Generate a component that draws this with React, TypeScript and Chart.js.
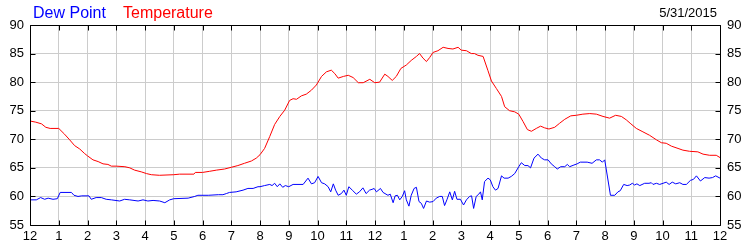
import React, { useEffect, useRef } from "react";
import { Chart, registerables } from "chart.js";

Chart.register(...registerables);

const dateLabel = "5/31/2015";
const seriesNames = ["Dew Point", "Temperature"];
const yTicks = [55, 60, 65, 70, 75, 80, 85, 90];
const hourTicks = [0, 1, 2, 3, 4, 5, 6, 7, 8, 9, 10, 11, 12, 13, 14, 15, 16, 17, 18, 19, 20, 21, 22, 23, 24];
const hourLabels = ["12", "1", "2", "3", "4", "5", "6", "7", "8", "9", "10", "11", "12", "1", "2", "3", "4", "5", "6", "7", "8", "9", "10", "11", "12"];

const tempHours = [
  0, 0.2, 0.4, 0.55, 0.7, 1.0, 1.2, 1.38, 1.55, 1.73, 1.9, 2.0, 2.19, 2.37, 2.54, 2.71, 2.83, 3.0, 3.3, 3.47,
  3.64, 3.87, 4.05, 4.22, 4.5, 5.0, 5.2, 5.7, 5.75, 6.0, 6.25, 6.48, 6.77, 7.0, 7.23, 7.46, 7.7, 7.87, 8.0, 8.16,
  8.34, 8.51, 8.69, 8.86, 9.03, 9.15, 9.27, 9.44, 9.61, 9.79, 9.96, 10.14, 10.31, 10.48, 10.6, 10.72, 10.9, 11.07, 11.24, 11.42,
  11.59, 11.82, 11.99, 12.16, 12.34, 12.45, 12.6, 12.74, 12.9, 13.09, 13.26, 13.44, 13.55, 13.67, 13.79, 13.9, 14.02, 14.19, 14.37, 14.54,
  14.71, 14.89, 15.0, 15.18, 15.35, 15.46, 15.58, 15.76, 15.93, 16.05, 16.22, 16.4, 16.51, 16.68, 16.86, 17.0, 17.15, 17.3, 17.44, 17.61,
  17.76, 17.9, 18.05, 18.25, 18.42, 18.6, 18.81, 19.0, 19.23, 19.47, 19.7, 19.93, 20.16, 20.37, 20.57, 20.74, 20.9, 21.09, 21.32, 21.55,
  21.79, 21.96, 22.13, 22.31, 22.54, 22.71, 22.94, 23.23, 23.41, 23.64, 23.87, 24.0,
];
const tempValues = [
  73.2, 73.0, 72.7, 72.1, 71.9, 71.9, 70.9, 69.9, 68.9, 68.3, 67.5, 67.1, 66.4, 66.1, 65.7, 65.6, 65.3, 65.3, 65.2, 65.0,
  64.6, 64.3, 64.0, 63.8, 63.7, 63.8, 63.9, 63.9, 64.2, 64.2, 64.4, 64.6, 64.8, 65.1, 65.4, 65.8, 66.2, 66.7, 67.3, 68.4,
  70.5, 72.6, 74.0, 75.1, 76.8, 77.1, 77.0, 77.6, 77.9, 78.6, 79.5, 81.0, 81.8, 82.1, 81.5, 80.7, 81.0, 81.2, 80.8, 79.9,
  79.9, 80.5, 79.9, 80.0, 81.4, 81.0, 80.3, 81.0, 82.4, 83.0, 83.8, 84.5, 85.0, 84.2, 83.6, 84.3, 85.2, 85.5, 86.1, 85.9,
  85.8, 86.1, 85.6, 85.5, 85.0, 85.0, 84.7, 84.5, 82.0, 80.2, 78.9, 77.5, 75.7, 75.0, 74.8, 74.4, 73.1, 71.7, 71.4, 71.9,
  72.3, 72.0, 71.8, 72.1, 72.8, 73.5, 74.1, 74.2, 74.4, 74.5, 74.4, 74.0, 73.7, 74.2, 74.0, 73.4, 72.7, 71.9, 71.3, 70.7,
  69.9, 69.4, 69.3, 68.8, 68.4, 68.1, 67.9, 67.8, 67.4, 67.2, 67.2, 66.8,
];

const dewHours = [
  0, 0.22, 0.37, 0.51, 0.63, 0.8, 0.95, 1.05, 1.44, 1.53, 1.67, 1.8, 2.05, 2.13, 2.3, 2.48, 2.65, 2.83, 3.12, 3.29,
  3.47, 3.76, 3.93, 4.1, 4.28, 4.51, 4.69, 4.86, 5.0, 5.5, 5.73, 5.84, 6.2, 6.55, 6.71, 6.83, 6.94, 7.17, 7.41, 7.58,
  7.76, 7.93, 8.0, 8.16, 8.34, 8.42, 8.51, 8.6, 8.69, 8.79, 8.88, 9.0, 9.15, 9.5, 9.67, 9.79, 9.9, 10.02, 10.14, 10.25,
  10.37, 10.46, 10.55, 10.63, 10.72, 10.83, 10.92, 11.0, 11.09, 11.21, 11.35, 11.46, 11.58, 11.69, 11.81, 11.93, 11.97, 12.05, 12.19, 12.28,
  12.45, 12.53, 12.63, 12.7, 12.78, 12.86, 12.95, 13.03, 13.09, 13.18, 13.26, 13.36, 13.44, 13.53, 13.61, 13.69, 13.79, 13.9, 14.02, 14.13,
  14.25, 14.34, 14.42, 14.5, 14.6, 14.69, 14.77, 14.85, 14.97, 15.08, 15.18, 15.29, 15.36, 15.43, 15.52, 15.61, 15.67, 15.73, 15.81, 15.93,
  16.01, 16.1, 16.19, 16.28, 16.4, 16.49, 16.63, 16.74, 16.86, 17.0, 17.09, 17.21, 17.32, 17.41, 17.53, 17.67, 17.79, 17.9, 18.02, 18.13,
  18.25, 18.34, 18.46, 18.6, 18.69, 18.77, 18.92, 19.03, 19.14, 19.38, 19.55, 19.7, 19.81, 19.91, 19.99, 20.19, 20.34, 20.45, 20.53, 20.65,
  20.77, 20.86, 20.95, 21.03, 21.11, 21.21, 21.38, 21.53, 21.61, 21.67, 21.79, 21.9, 22.02, 22.13, 22.23, 22.34, 22.46, 22.6, 22.71, 22.83,
  22.97, 23.08, 23.18, 23.32, 23.47, 23.62, 23.74, 23.85, 24.0,
];
const dewValues = [
  59.4, 59.4, 59.8, 59.5, 59.7, 59.5, 59.6, 60.7, 60.7, 60.2, 60.0, 60.1, 60.1, 59.5, 59.8, 59.8, 59.5, 59.4, 59.2, 59.5,
  59.4, 59.2, 59.4, 59.2, 59.3, 59.2, 58.9, 59.4, 59.6, 59.7, 60.0, 60.2, 60.2, 60.3, 60.3, 60.5, 60.7, 60.8, 61.1, 61.4,
  61.4, 61.7, 61.7, 61.9, 62.1, 61.9, 62.3, 61.7, 62.2, 61.6, 61.9, 61.7, 62.1, 62.1, 63.2, 62.2, 62.4, 63.5, 62.4, 62.2,
  61.7, 60.8, 62.2, 61.1, 60.2, 60.5, 61.1, 60.2, 61.7, 61.1, 60.4, 60.8, 61.5, 60.5, 61.1, 61.3, 61.4, 60.8, 61.4, 60.7,
  60.2, 60.4, 58.9, 60.1, 60.2, 59.4, 60.0, 61.0, 59.4, 58.3, 60.2, 61.4, 61.6, 59.1, 58.8, 57.9, 59.2, 59.0, 59.1, 59.7,
  60.0, 60.0, 58.4, 59.4, 60.8, 59.4, 60.9, 59.5, 59.5, 58.5, 59.4, 60.0, 60.1, 57.9, 60.0, 60.4, 60.8, 59.4, 62.6, 63.2,
  62.9, 61.7, 61.1, 61.4, 63.6, 63.2, 63.2, 63.5, 64.0, 65.2, 65.9, 65.4, 65.4, 65.0, 66.7, 67.4, 66.7, 66.4, 66.4, 65.7,
  65.2, 64.8, 65.2, 65.2, 65.6, 65.2, 65.5, 65.7, 66.0, 66.0, 65.8, 66.4, 66.4, 66.0, 66.4, 60.2, 60.2, 60.8, 61.0, 62.1,
  61.9, 62.0, 62.3, 62.0, 62.2, 61.9, 62.3, 62.3, 62.4, 62.1, 62.3, 62.1, 62.3, 62.5, 62.1, 62.5, 62.2, 62.4, 62.1, 62.1,
  62.8, 63.0, 63.6, 62.7, 63.3, 63.2, 63.3, 63.6, 63.2,
];

const FONT = '"Liberation Sans", Arial, sans-serif';

const framePlugin = {
  id: "frame",
  afterDraw(chart: any) {
    const ctx = chart.ctx;
    const { left, right, top, bottom } = chart.chartArea;
    const xs = chart.scales.x;
    const ys = chart.scales.y;
    ctx.save();
    ctx.strokeStyle = "#000";
    ctx.lineWidth = 1;
    const L = Math.round(left) + 0.5;
    const R = Math.round(right) + 0.5;
    const T = Math.round(top) + 0.5;
    const B = Math.round(bottom) + 0.5;
    ctx.beginPath();
    ctx.rect(L, T, R - L, B - T);
    for (const h of hourTicks) {
      const px = Math.round(xs.getPixelForValue(h)) + 0.5;
      ctx.moveTo(px, B);
      ctx.lineTo(px, B - 5);
      ctx.moveTo(px, T);
      ctx.lineTo(px, T + 5);
    }
    for (const v of yTicks) {
      const py = Math.round(ys.getPixelForValue(v)) + 0.5;
      ctx.moveTo(L, py);
      ctx.lineTo(L + 5, py);
      ctx.moveTo(R, py);
      ctx.lineTo(R - 5, py);
    }
    ctx.stroke();

    ctx.textBaseline = "alphabetic";
    ctx.font = `16px ${FONT}`;
    ctx.textAlign = "left";
    ctx.fillStyle = "#0000ff";
    ctx.fillText(seriesNames[0], 33, 18);
    ctx.fillStyle = "#ff0000";
    ctx.fillText(seriesNames[1], 123, 18);
    ctx.font = `13px ${FONT}`;
    ctx.fillStyle = "#000";
    ctx.textAlign = "right";
    ctx.fillText(dateLabel, 717, 17);
    ctx.restore();
  },
};

export default function App() {
  const ref = useRef<HTMLCanvasElement | null>(null);
  useEffect(() => {
    document.body.style.margin = "0";
    const canvas = ref.current;
    if (!canvas) return;
    const tickFont = { family: FONT, size: 13 };
    const chart = new Chart(canvas, {
      type: "line",
      data: {
        datasets: [
          {
            label: seriesNames[0],
            data: dewHours.map((h, i) => ({ x: h, y: dewValues[i] })),
            borderColor: "#0000ff",
            borderWidth: 1,
            pointRadius: 0,
            tension: 0,
            yAxisID: "y",
          },
          {
            label: seriesNames[1],
            data: tempHours.map((h, i) => ({ x: h, y: tempValues[i] })),
            borderColor: "#ff0000",
            borderWidth: 1,
            pointRadius: 0,
            tension: 0,
            yAxisID: "y",
          },
        ],
      },
      options: {
        responsive: false,
        animation: false,
        devicePixelRatio: 1,
        layout: { padding: { top: 25, left: 0, right: 0, bottom: 0 } },
        plugins: { legend: { display: false }, tooltip: { enabled: false }, title: { display: false } },
        scales: {
          x: {
            type: "linear",
            min: 0,
            max: 24,
            afterBuildTicks: (s: any) => {
              s.ticks = hourTicks.map((v) => ({ value: v }));
            },
            afterFit: (s: any) => {
              s.height = 25;
            },
            ticks: {
              autoSkip: false,
              maxRotation: 0,
              padding: 4,
              color: "#000",
              font: tickFont,
              callback: (v: any) => hourLabels[hourTicks.indexOf(Number(v))] ?? "",
            },
            grid: { color: "#cccccc", drawTicks: false },
            border: { display: false },
          },
          y: {
            type: "linear",
            position: "left",
            min: 55,
            max: 90,
            afterBuildTicks: (s: any) => {
              s.ticks = yTicks.map((v) => ({ value: v }));
            },
            afterFit: (s: any) => {
              s.width = 30;
            },
            ticks: { padding: 6, color: "#000", font: tickFont },
            grid: { color: "#cccccc", drawTicks: false },
            border: { display: false },
          },
          y2: {
            type: "linear",
            position: "right",
            min: 55,
            max: 90,
            afterBuildTicks: (s: any) => {
              s.ticks = yTicks.map((v) => ({ value: v }));
            },
            afterFit: (s: any) => {
              s.width = 30;
            },
            ticks: { padding: 7, color: "#000", font: tickFont },
            grid: { display: false, drawTicks: false },
            border: { display: false },
          },
        },
      },
      plugins: [framePlugin],
    } as any);
    return () => chart.destroy();
  }, []);
  return (
    <div style={{ width: 750, height: 250 }}>
      <canvas ref={ref} width={750} height={250} style={{ display: "block", width: 750, height: 250 }} />
    </div>
  );
}
